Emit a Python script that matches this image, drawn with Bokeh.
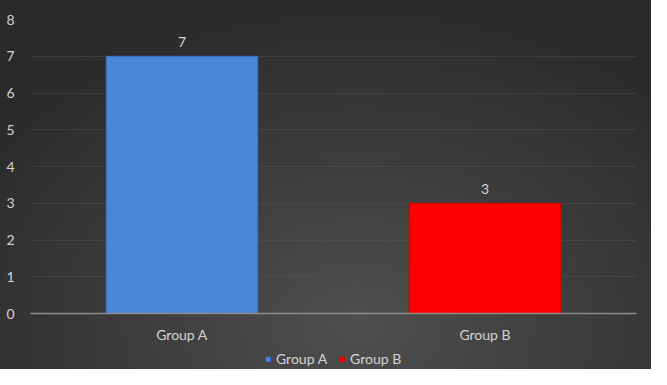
from bokeh.plotting import figure
from bokeh.layouts import column
from bokeh.core.properties import value
from bokeh.models import ColumnDataSource, LabelSet, Legend, LegendItem, FixedTicker, Range1d
from bokeh.embed import file_html
from bokeh.resources import INLINE

categories = ["Group A", "Group B"]
values = [7, 3]
colors = ["#4a87d6", "#ff0000"]
line_colors = ["#3a6fb8", "#d80000"]
y_ticks = [0, 1, 2, 3, 4, 5, 6, 7, 8]

FONT = "Lato"
TXT = "#d4d4d4"
FS = "14px"

src = ColumnDataSource(dict(cat=categories, val=values, color=colors, lc=line_colors,
                            lbl=[str(v) for v in values]))

p = figure(x_range=categories, y_range=Range1d(0, 8), width=651, height=345,
           output_backend="svg", toolbar_location=None,
           min_border_left=30, min_border_right=15, min_border_top=19, min_border_bottom=30)
p.background_fill_alpha = 0
p.border_fill_alpha = 0
p.outline_line_color = None

r = p.vbar(x="cat", top="val", width=0.5, source=src, fill_color="color",
           line_color="lc", line_width=1)

labels = LabelSet(x="cat", y="val", text="lbl", source=src, text_align="center",
                  text_baseline="bottom", y_offset=9, text_color=TXT,
                  text_font_size=value(FS), text_font=value(FONT))
p.add_layout(labels)

p.yaxis.ticker = FixedTicker(ticks=y_ticks)
p.yaxis.axis_line_color = None
p.yaxis.major_tick_line_color = None
p.yaxis.minor_tick_line_color = None
p.yaxis.major_label_standoff = 10
p.yaxis.major_label_text_color = TXT
p.yaxis.major_label_text_font = FONT
p.yaxis.major_label_text_font_size = FS

p.xaxis.axis_line_color = "#8c8c8c"
p.xaxis.axis_line_width = 1.5
p.xaxis.major_tick_line_color = None
p.xaxis.minor_tick_line_color = None
p.xaxis.major_label_standoff = 6
p.xaxis.major_label_text_color = TXT
p.xaxis.major_label_text_font = FONT
p.xaxis.major_label_text_font_size = FS

p.xgrid.grid_line_color = None
p.ygrid.grid_line_color = "#5a5a5a"
p.ygrid.grid_line_alpha = 0.4
p.ygrid.grid_line_width = 1

# legend strip below the chart (bars here sit outside its view; only the legend shows)
lg = figure(x_range=p.x_range, y_range=Range1d(100, 101), width=651, height=24,
            output_backend="svg", toolbar_location=None,
            x_axis_type=None, y_axis_type=None,
            min_border_left=0, min_border_right=0, min_border_top=0, min_border_bottom=0)
lg.background_fill_alpha = 0
lg.border_fill_alpha = 0
lg.outline_line_color = None
lg.grid.grid_line_color = None
lr = lg.vbar(x="cat", top="val", width=0.5, source=src, fill_color="color", line_color="lc")
items = [LegendItem(label=categories[i], renderers=[lr], index=i) for i in range(len(categories))]
legend = Legend(items=items, orientation="horizontal", location=(235, 2),
                background_fill_alpha=0, border_line_color=None,
                glyph_width=6, glyph_height=6, label_text_color=TXT,
                label_text_font=FONT, label_text_font_size=FS,
                label_height=14, label_width=10, spacing=12, padding=2, margin=0,
                label_standoff=5)
lg.add_layout(legend)

layout = column(p, lg, spacing=0)
layout.styles = {"background": "radial-gradient(ellipse 70% 90% at 55% 88%, #4f4f4f 0%, #3a3a3a 55%, #2a2a2a 100%)"}

open("out.html", "w").write(file_html(layout, INLINE))
